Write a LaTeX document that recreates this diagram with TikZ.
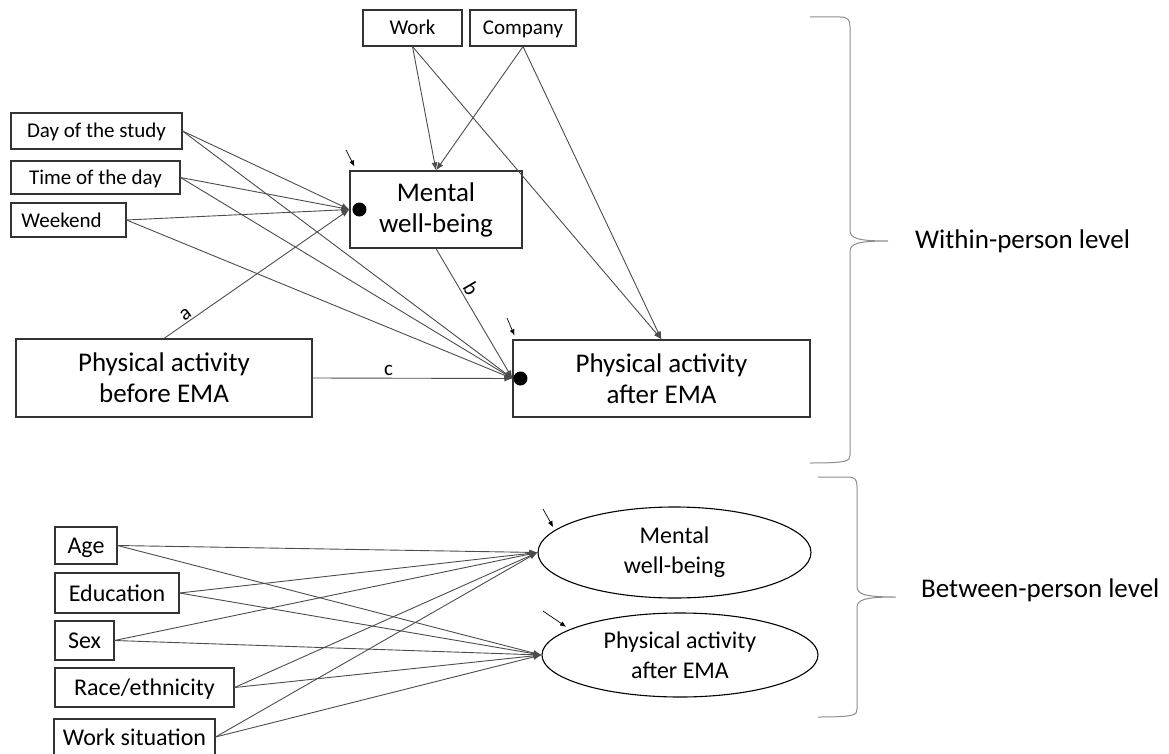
\documentclass[tikz,border=0pt]{standalone}
\usepackage{fontspec}
\setmainfont{Carlito}
\usetikzlibrary{arrows.meta,shapes.geometric}
\definecolor{MyEdge}{gray}{0.2}
\definecolor{MyLine}{gray}{0.3}
\definecolor{MyBrace}{gray}{0.55}

\begin{document}
\begin{tikzpicture}[x=1pt,y=-1pt,>={Latex[length=8pt,width=6pt]},
		box/.style={draw=MyEdge, line width=1.1pt, inner sep=0pt, align=center},
		oval/.style={ellipse, draw=black, line width=1.1pt, inner sep=0pt, align=center,
			font=\fontsize{24}{30}\selectfont},
		small/.style={box, text height=14pt, text depth=0pt, font=\fontsize{21}{25}\selectfont},
		medium/.style={box, text height=16pt, text depth=0pt, font=\fontsize{24}{28}\selectfont},
		large/.style={box, font=\fontsize{27}{31}\selectfont},
		link/.style={->, MyLine, line width=0.9pt},
		res/.style={-{Latex[length=6pt,width=5pt]}, black, line width=0.7pt},
		lbl/.style={font=\fontsize{21}{25}\selectfont, text=black, inner sep=2pt},
		brace/.style={MyBrace, line width=1pt},
		level/.style={font=\fontsize{27}{31}\selectfont, anchor=west, inner sep=0pt}]
		\useasboundingbox (0,0) rectangle (1169,754);
		\node[small, minimum width=99, minimum height=36] (work) at (412.5,28) {Work};
		\node[small, minimum width=106, minimum height=36] (company) at (523,28) {Company};
		\node[small, minimum width=171, minimum height=36] (day) at (96.5,131) {Day of the study};
		\node[small, minimum width=169, minimum height=33] (time) at (95.5,177.5) {Time of the day};
		\node[small, minimum width=115, minimum height=34] (weekend) at (68.5,220) {Weekend\hspace{14pt}};
		\node[large, minimum width=172, minimum height=77] (mwb) at (436,209.5) {Mental\\well-being};
		\node[large, minimum width=296, minimum height=78] (pab) at (164,378) {Physical activity\\before EMA};
		\node[large, minimum width=297, minimum height=77] (paa) at (661.5,378.5) {Physical activity\\after EMA};
		\node[medium, minimum width=62, minimum height=37] (age) at (86,545.5) {Age};
		\node[medium, minimum width=124, minimum height=40] (edu) at (117,593) {Education};
		\node[medium, minimum width=59, minimum height=39] (sex) at (84.5,640.5) {Sex};
		\node[medium, minimum width=179, minimum height=39] (race) at (144.5,687.5) {Race/ethnicity};
		\node[medium, minimum width=161, minimum height=36] (worksit) at (134.5,737) {Work situation};
		\node[oval, minimum width=273, minimum height=91] (mwbb) at (674.5,552.5) {Mental\\well-being};
		\node[oval, minimum width=276, minimum height=84] (paab) at (680,655) {Physical activity\\after EMA};
		\draw[link] (work.south) -- (mwb.north);
		\draw[link] (work.south) -- (paa.north);
		\draw[link] (company.south) -- (mwb.north);
		\draw[link] (company.south) -- (paa.north);
		\draw[link] (day.east) -- (mwb.west);
		\draw[link] (day.east) -- (paa.west);
		\draw[link] (time.east) -- (mwb.west);
		\draw[link] (time.east) -- (paa.west);
		\draw[link] (weekend.east) -- (mwb.west);
		\draw[link] (weekend.east) -- (paa.west);
		\draw[link] (pab.north) -- node[lbl, sloped, above, pos=0.14] {a} (mwb.west);
		\draw[link] (mwb.south) -- node[lbl, sloped, above, pos=0.35] {b} (paa.west);
		\draw[link] (pab.east) -- node[lbl, above, pos=0.38] {c} (paa.west);
		\fill ([xshift=10]mwb.west) circle (7);
		\fill ([xshift=8]paa.west) circle (7);
		\draw[link] (age.east) -- (mwbb.west);
		\draw[link] (age.east) -- (paab.west);
		\draw[link] (edu.east) -- (mwbb.west);
		\draw[link] (edu.east) -- (paab.west);
		\draw[link] (sex.east) -- (mwbb.west);
		\draw[link] (sex.east) -- (paab.west);
		\draw[link] (race.east) -- (mwbb.west);
		\draw[link] (race.east) -- (paab.west);
		\draw[link] (worksit.east) -- (mwbb.west);
		\draw[link] (worksit.east) -- (paab.west);
		\coordinate (emwb) at (346,150);
		\coordinate (epaa) at (507,318);
		\coordinate (emwbb) at (543,509);
		\coordinate (epaab) at (543,611);
		\draw[res] (emwb) -- ([shift={(5,-4)}]mwb.north west);
		\draw[res] (epaa) -- ([shift={(2,-4)}]paa.north west);
		\draw[res] (emwbb) -- ([yshift=4]mwbb.170);
		\draw[res] (epaab) -- ([yshift=4]paab.168);
		\draw[brace] (810,17) -- (840,17) .. controls (848,17) and (850,20) .. (850,27)
			-- (850,230) .. controls (850,238) and (856,241) .. (888,241)
			.. controls (856,241) and (850,244) .. (850,252)
			-- (850,455) .. controls (850,461) and (848,463) .. (810,463);
		\draw[brace] (818,477) -- (848,477) .. controls (855,477) and (857,480) .. (857,486)
			-- (857,586) .. controls (857,594) and (863,597) .. (896,597)
			.. controls (863,597) and (857,600) .. (857,608)
			-- (857,709) .. controls (857,715) and (855,717) .. (818,717);
		\node[level] (within) at (915,241) {Within-person level};
		\node[level] (between) at (921,590) {Between-person level};
	\end{tikzpicture}
\end{document}
